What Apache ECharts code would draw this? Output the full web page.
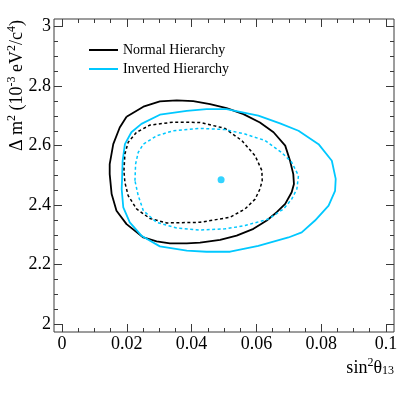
<!DOCTYPE html>
<html>
<head>
<meta charset="utf-8">
<script src="https://cdn.jsdelivr.net/npm/echarts@6/dist/echarts.min.js"></script>
<style>html,body{margin:0;padding:0;background:#fff}#c{width:415px;height:395px}</style>
</head>
<body>
<div id="c"></div>
<script>
// ---- data (sin^2 theta13, Delta m^2 [1e-3 eV^2/c^4]) ----
const normalSolid = [
  [0.0199,2.697],[0.0251,2.731],[0.0302,2.749],[0.0354,2.752],[0.0405,2.750],[0.0457,2.740],
  [0.0508,2.726],[0.0560,2.706],[0.0611,2.678],[0.0653,2.645],[0.0689,2.600],[0.0704,2.549],
  [0.0714,2.504],[0.0716,2.471],[0.0709,2.443],[0.0689,2.404],[0.0663,2.376],[0.0632,2.348],
  [0.0591,2.320],[0.0539,2.297],[0.0488,2.283],[0.0426,2.274],[0.0385,2.271],[0.0333,2.271],
  [0.0292,2.278],[0.0251,2.291],[0.0199,2.336],[0.0168,2.381],[0.0153,2.437],[0.0147,2.504],
  [0.0147,2.538],[0.0158,2.605],[0.0178,2.661],[0.0199,2.697]
];
const invertedSolid = [
  [0.0185,2.482],[0.0187,2.549],[0.0194,2.605],[0.0214,2.645],[0.0245,2.673],[0.0302,2.704],
  [0.0385,2.717],[0.0446,2.723],[0.0508,2.723],[0.0606,2.701],[0.0673,2.675],[0.0730,2.650],
  [0.0792,2.605],[0.0833,2.549],[0.0845,2.488],[0.0843,2.448],[0.0823,2.398],[0.0781,2.348],
  [0.0740,2.308],[0.0699,2.291],[0.0606,2.263],[0.0519,2.243],[0.0446,2.243],[0.0385,2.247],
  [0.0302,2.261],[0.0245,2.297],[0.0209,2.342],[0.0189,2.392],[0.0184,2.454],[0.0185,2.482]
];
const normalDashed = [
  [0.0191,2.516],[0.0194,2.572],[0.0204,2.611],[0.0230,2.645],[0.0271,2.669],[0.0343,2.679],
  [0.0426,2.678],[0.0503,2.658],[0.0555,2.617],[0.0596,2.566],[0.0617,2.516],[0.0618,2.482],
  [0.0611,2.454],[0.0596,2.420],[0.0565,2.387],[0.0519,2.359],[0.0426,2.342],[0.0323,2.340],
  [0.0271,2.355],[0.0230,2.387],[0.0204,2.432],[0.0194,2.476],[0.0191,2.516]
];
const invertedDashed = [
  [0.0225,2.482],[0.0227,2.538],[0.0235,2.577],[0.0251,2.605],[0.0292,2.633],[0.0343,2.650],
  [0.0426,2.658],[0.0503,2.654],[0.0565,2.639],[0.0627,2.617],[0.0678,2.577],[0.0709,2.544],
  [0.0730,2.499],[0.0725,2.454],[0.0709,2.420],[0.0684,2.387],[0.0637,2.353],[0.0565,2.331],
  [0.0503,2.320],[0.0426,2.316],[0.0354,2.323],[0.0292,2.342],[0.0251,2.381],[0.0235,2.432],
  [0.0225,2.482]
];
const bestFit = [[0.0491,2.485]];

const xMajor = [0,0.02,0.04,0.06,0.08,0.1];
const xMinor = [0.005,0.01,0.015,0.025,0.03,0.035,0.045,0.05,0.055,0.065,0.07,0.075,0.085,0.09,0.095];
const yMajor = [2,2.2,2.4,2.6,2.8,3];
const yMinor = [2.05,2.1,2.15,2.25,2.3,2.35,2.45,2.5,2.55,2.65,2.7,2.75,2.85,2.9,2.95];
const xLabels = ['0','0.02','0.04','0.06','0.08','0.1'];
const yLabels = ['2','2.2','2.4','2.6','2.8','3'];
const legendNames = ['Normal Hierarchy','Inverted Hierarchy'];

// ---- chart ----
const BLACK = '#000000', CYAN = '#00c8ff', AX = '#3a3a3a';
const FONT = '"Liberation Serif", "Times New Roman", serif';
const X0 = -0.0025, X1 = 0.1025, Y0 = 1.973, Y1 = 3.026;

function xAxisDef(pos, ticks, len, labels) {
  return {
    type:'value', position:pos, min:X0, max:X1, splitLine:{show:false},
    axisLine:{show:false, onZero:false},
    axisTick:{show:true, inside:true, length:len, customValues:ticks, lineStyle:{color:AX,width:1}},
    axisLabel: labels ? {show:true, customValues:xMajor, margin:3, fontFamily:FONT, fontSize:18, color:'#000',
      formatter:v => { const i = xMajor.findIndex(m => Math.abs(m - v) < 1e-9); return i >= 0 ? xLabels[i] : ''; }}
      : {show:false}
  };
}
function yAxisDef(pos, ticks, len, labels) {
  return {
    type:'value', position:pos, min:Y0, max:Y1, splitLine:{show:false},
    axisLine:{show:false, onZero:false},
    axisTick:{show:true, inside:true, length:len, customValues:ticks, lineStyle:{color:AX,width:1}},
    axisLabel: labels ? {show:true, customValues:yMajor, margin:3, fontFamily:FONT, fontSize:18, color:'#000',
      formatter:v => { const i = yMajor.findIndex(m => Math.abs(m - v) < 1e-9); return i >= 0 ? yLabels[i] : ''; }}
      : {show:false}
  };
}

const chart = echarts.init(document.getElementById('c'), null, {renderer:'canvas'});
chart.setOption({
  animation:false,
  backgroundColor:'#fff',
  grid:{left:54, top:19, width:340, height:313, show:true, borderColor:AX, borderWidth:1, backgroundColor:'transparent'},
  xAxis:[
    xAxisDef('bottom', xMajor, 8, true),
    xAxisDef('bottom', xMinor, 4, false),
    xAxisDef('top', xMajor, 8, false),
    xAxisDef('top', xMinor, 4, false)
  ],
  yAxis:[
    yAxisDef('left', yMajor, 8, true),
    yAxisDef('left', yMinor, 4, false),
    yAxisDef('right', yMajor, 8, false),
    yAxisDef('right', yMinor, 4, false)
  ],
  legend:{
    data:legendNames.map(n => ({name:n, icon:'rect'})), orient:'vertical', left:89, top:43, padding:0,
    itemWidth:29, itemHeight:2, itemGap:5,
    textStyle:{fontFamily:FONT, fontSize:14, color:'#000'}
  },
  graphic:[
    {type:'text', x:394, y:367, style:{
      text:'{m|sin}{s|2}{m|θ}{b|13}', align:'right', verticalAlign:'middle',
      rich:{ m:{fontFamily:FONT, fontSize:18, color:'#000', verticalAlign:'bottom', lineHeight:20},
             s:{fontFamily:FONT, fontSize:12, color:'#000', verticalAlign:'top', lineHeight:20, padding:[0,0,10,0]},
             b:{fontFamily:FONT, fontSize:12, color:'#000', verticalAlign:'bottom', lineHeight:20, padding:[6,0,0,0]} }
    }},
    {type:'text', x:16, y:20, rotation:Math.PI/2, style:{
      text:'{m|Δ m}{s|2}{m| (10}{s|-3}{m| eV}{s|2}{m|/c}{s|4}{m|)}', align:'right', verticalAlign:'middle',
      rich:{ m:{fontFamily:FONT, fontSize:18, color:'#000', verticalAlign:'bottom', lineHeight:20},
             s:{fontFamily:FONT, fontSize:12, color:'#000', verticalAlign:'top', lineHeight:20, padding:[0,0,10,0]} }
    }}
  ],
  series:[
    {name:'Normal Hierarchy', type:'line', data:normalSolid, symbol:'none', smooth:false,
     lineStyle:{color:BLACK, width:1.8}, itemStyle:{color:BLACK}},
    {name:'Inverted Hierarchy', type:'line', data:invertedSolid, symbol:'none', smooth:false,
     lineStyle:{color:CYAN, width:1.8}, itemStyle:{color:CYAN}},
    {name:'Normal 68%', type:'line', data:normalDashed, symbol:'none', smooth:false,
     lineStyle:{color:BLACK, width:1.5, type:[3,2.5]}, itemStyle:{color:BLACK}},
    {name:'Inverted 68%', type:'line', data:invertedDashed, symbol:'none', smooth:false,
     lineStyle:{color:CYAN, width:1.5, type:[3,2.5]}, itemStyle:{color:CYAN}},
    {name:'Best fit', type:'scatter', data:bestFit, symbol:'circle', symbolSize:7,
     itemStyle:{color:CYAN}}
  ]
});
</script>
</body>
</html>
